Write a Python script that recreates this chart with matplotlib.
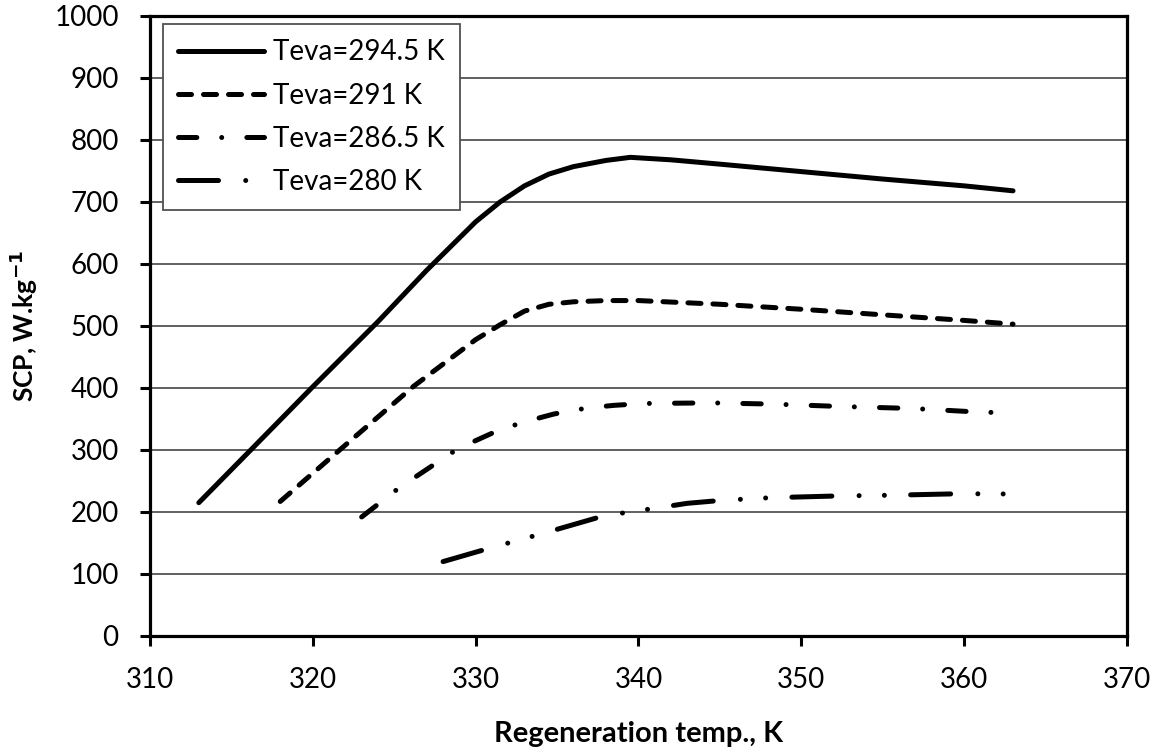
import matplotlib.pyplot as plt

plt.rcParams['font.family'] = ['Lato', 'DejaVu Sans']
plt.rcParams['lines.scale_dashes'] = False

# data
t_2945 = [313, 316, 320, 324, 327, 330, 331.5, 333, 334.5, 336, 338, 339.5, 342, 345, 350, 355, 360, 363]
scp_2945 = [215, 295, 402, 507, 590, 668, 700, 726, 745, 757, 767, 772, 768, 761, 749, 737, 726, 718]

t_291 = [318, 322, 326.2, 330, 331.5, 333, 334.5, 336, 338, 340, 345, 350, 355, 360, 363]
scp_291 = [217, 308, 403, 478, 502, 524, 535, 539, 541, 541, 535, 527, 518, 509, 503]

t_2865 = [323, 325.3, 328.9, 331, 332.8, 334.8, 336.9, 338.5, 340.3, 344.5, 348.3, 352.6, 356.8, 361, 363]
scp_2865 = [192, 239, 302, 327, 344, 358, 368, 372, 375, 376, 374, 370, 367, 361, 360]

t_280 = [328, 330.9, 333.8, 337.9, 341, 343, 345.2, 348.1, 352.4, 355.5, 359.8, 363]
scp_280 = [120, 142, 163, 194, 206, 214, 219, 223, 226, 227, 229.5, 229]

labels = ['Teva=294.5 K', 'Teva=291 K', 'Teva=286.5 K', 'Teva=280 K']

fig = plt.figure(figsize=(11.59, 7.5), dpi=100)
ax = fig.add_axes([0.1294, 0.152, 0.843, 0.8267])

lw = 3.6
ax.plot(t_2945, scp_2945, color='black', lw=lw, label=labels[0],
        solid_capstyle='round', solid_joinstyle='round')
ax.plot(t_291, scp_291, color='black', lw=lw, label=labels[1],
        dashes=(9.4, 8.6), dash_capstyle='round')
ax.plot(t_2865, scp_2865, color='black', lw=lw, label=labels[2],
        dashes=(13.2, 17.9, 0.01, 18.1), dash_capstyle='round')
ax.plot(t_280, scp_280, color='black', lw=lw, label=labels[3],
        dashes=(28.8, 19.6, 0.01, 18.2, 0.01, 18.9), dash_capstyle='round')

ax.set_xlim(310, 370)
ax.set_ylim(0, 1000)
ax.set_xticks(range(310, 371, 10))
ax.set_yticks(range(0, 1001, 100))
ax.yaxis.grid(True, color='#606060', lw=1.4)
ax.set_axisbelow(True)

for s in ax.spines.values():
    s.set_linewidth(2.3)
ax.tick_params(axis='both', labelsize=20, direction='out', length=7.5, width=2.2)
ax.tick_params(axis='x', pad=15)
ax.tick_params(axis='y', pad=15)
ax.tick_params(axis='both', which='both', top=False, right=False)

ax.set_xlabel('Regeneration temp., K', fontsize=21, fontweight='bold', labelpad=20)
ax.set_ylabel('SCP, W.kg$^{\\mathbf{-1}}$', fontsize=19, fontweight='bold', labelpad=10)

leg = ax.legend(loc='upper left', bbox_to_anchor=(0.0133, 0.987), borderaxespad=0,
                fontsize=20, handlelength=3.1, handletextpad=0.3, labelspacing=0.62,
                fancybox=False, framealpha=1, edgecolor='#505050', borderpad=0.55)
leg.get_frame().set_linewidth(1.3)

fig.savefig('out.png', dpi=100)
